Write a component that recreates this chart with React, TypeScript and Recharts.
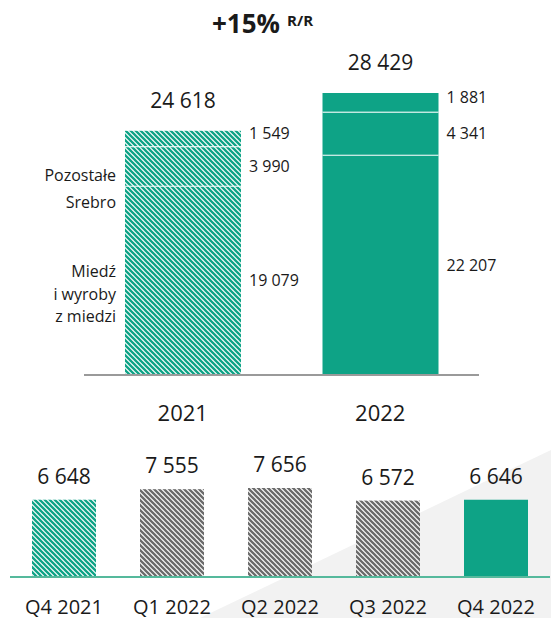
import { BarChart, Bar, XAxis, YAxis, LabelList } from "recharts";

const years = ["2021", "2022"];
const copper = [19079, 22207];
const silver = [3990, 4341];
const other = [1549, 1881];
const totals = [24618, 28429];
const segmentNames = ["Pozostałe", "Srebro", "Miedź", "i wyroby", "z miedzi"];

const quarters = ["Q4 2021", "Q1 2022", "Q2 2022", "Q3 2022", "Q4 2022"];
const quarterly = [6648, 7555, 7656, 6572, 6646];

const TEAL = "#0ea386";
const GRAY = "#6b6b6b";
const INK = "#1a1a1a";
const FONT = "'Open Sans', 'Noto Sans', sans-serif";

const topRows = years.map((year, i) => ({
  year, copper: copper[i], silver: silver[i], other: other[i], total: totals[i],
}));
const bottomRows = quarters.map((q, i) => ({ q, value: quarterly[i] }));

const fmt = (v: number) => String(v).replace(/\B(?=(\d{3})+(?!\d))/g, " ");

// 2021 hatched, 2022 solid; quarters: first teal hatch, middle grey hatch, last solid
const yearFill = (i: number) => (i === 0 ? "url(#hatchTeal)" : TEAL);
const quarterFill = (i: number) =>
  i === 0 ? "url(#hatchTeal)" : i === quarters.length - 1 ? TEAL : "url(#hatchGray)";

function Hatches() {
  return (
    <defs>
      {[["hatchTeal", TEAL], ["hatchGray", GRAY]].map(([id, c]) => (
        <pattern key={id} id={id} width={5} height={5} patternUnits="userSpaceOnUse">
          <rect width={5} height={5} fill="#fff" />
          <path d="M-1,4 l2,2 M0,0 l5,5 M4,-1 l2,2" stroke={c} strokeWidth={2.3} />
        </pattern>
      ))}
    </defs>
  );
}

function Segment(props: any) {
  const { x, y, width, height, index, sep } = props;
  return (
    <g>
      <rect x={x} y={y} width={width} height={height} fill={yearFill(index)} />
      {sep && <line x1={x} x2={x + width} y1={y} y2={y} stroke="#fff" strokeWidth={2} />}
    </g>
  );
}

const sideLabel = (dy: number) => (p: any) => (
  <text x={p.x + p.width + 8} y={p.y + p.height / 2 + dy} dominantBaseline="central"
    fontSize={16} fill={INK} fontFamily={FONT}>{fmt(p.value)}</text>
);

const totalLabel = (p: any) => (
  <text x={p.x + p.width / 2} y={p.y - 31} textAnchor="middle" dominantBaseline="central"
    fontSize={21} fill={INK} fontFamily={FONT}>{fmt(p.value)}</text>
);

const YearTick = ({ x, y, payload }: any) => (
  <text x={x} y={y + 37} textAnchor="middle" dominantBaseline="central"
    fontSize={22} fill={INK} fontFamily={FONT}>{payload.value}</text>
);

const QuarterTick = ({ x, y, payload }: any) => (
  <text x={x} y={y + 29} textAnchor="middle" dominantBaseline="central"
    fontSize={20} fill={INK} fontFamily={FONT}>{payload.value}</text>
);

const quarterLabel = (p: any) => (
  <text x={p.x + p.width / 2} y={p.y - 24} textAnchor="middle" dominantBaseline="central"
    fontSize={21} fill={INK} fontFamily={FONT}>{fmt(p.value)}</text>
);

function QuarterBar(props: any) {
  const { x, y, width, height, index } = props;
  return <rect x={x} y={y} width={width} height={height} fill={quarterFill(index)} />;
}

export default function App() {
  return (
    <div style={{ position: "absolute", left: 0, top: 0, width: 551, height: 618, background: "#fff", fontFamily: FONT, overflow: "hidden" }}>
      <svg width={551} height={618} style={{ position: "absolute", left: 0, top: 0 }}>
        <polygon points="200,618 551,450 551,618" fill="#f2f2f2" />
      </svg>

      <div style={{ position: "absolute", left: 0, top: 0 }}>
        <BarChart width={551} height={430} data={topRows} margin={{ top: 93, right: 72, left: 84, bottom: 0 }}>
          <Hatches />
          <XAxis dataKey="year" axisLine={{ stroke: "#9a9a9a", strokeWidth: 2 }} tickLine={false}
            tickSize={0} tickMargin={0} height={55} interval={0} tick={<YearTick />} />
          <YAxis hide domain={[0, "dataMax"]} />
          <Bar dataKey="copper" stackId="s" barSize={116} isAnimationActive={false} shape={<Segment sep />}>
            <LabelList dataKey="copper" content={sideLabel(0)} />
          </Bar>
          <Bar dataKey="silver" stackId="s" barSize={116} isAnimationActive={false} shape={<Segment sep />}>
            <LabelList dataKey="silver" content={sideLabel(0)} />
          </Bar>
          <Bar dataKey="other" stackId="s" barSize={116} isAnimationActive={false} shape={<Segment />}>
            <LabelList dataKey="other" content={sideLabel(-5)} />
            <LabelList dataKey="total" content={totalLabel} />
          </Bar>
        </BarChart>
      </div>

      <div style={{ position: "absolute", left: 0, top: 440 }}>
        <BarChart width={551} height={178} data={bottomRows} margin={{ top: 48, right: 1, left: 10, bottom: 0 }}
          style={{ overflow: "visible" }}>
          <Hatches />
          <XAxis dataKey="q" axisLine={{ stroke: "#55b99c", strokeWidth: 2 }} tickLine={false}
            tickSize={0} tickMargin={0} height={41} interval={0} tick={<QuarterTick />} />
          <YAxis hide domain={[0, "dataMax"]} />
          <Bar dataKey="value" barSize={64} isAnimationActive={false} shape={<QuarterBar />}>
            <LabelList dataKey="value" content={quarterLabel} />
          </Bar>
        </BarChart>
      </div>

      <svg width={551} height={618} style={{ position: "absolute", left: 0, top: 0, pointerEvents: "none" }}
        fontFamily={FONT} fill={INK}>
        <text x={212} y={33} fontSize={26} fontWeight={700}>
          +15%<tspan dx={7} dy={-7} fontSize={15}>R/R</tspan>
        </text>
        {[181, 208, 277, 300, 322].map((yy, i) => (
          <text key={i} x={116} y={yy} textAnchor="end" fontSize={16}>{segmentNames[i]}</text>
        ))}
      </svg>
    </div>
  );
}
